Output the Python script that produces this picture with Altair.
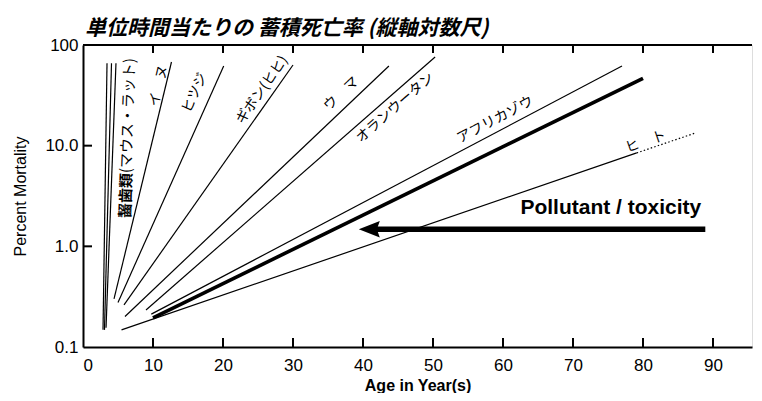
import altair as alt
import pandas as pd

# ---- data ----
series = ["rodent1", "rodent2", "rodent3", "dog", "sheep", "gibbon",
          "horse", "orangutan", "elephant", "pollutant", "human"]
x_start = [2.86, 3.07, 3.29, 4.43, 5.0, 5.86, 6.0, 9.0, 9.76, 10.0, 5.5]
y_start = [0.148, 0.148, 0.155, 0.30, 0.277, 0.262, 0.201, 0.233, 0.212, 0.195, 0.148]
x_end = [3.43, 4.07, 4.71, 12.64, 20.1, 30.0, 43.7, 50.3, 77.0, 80.0, 79.1]
y_end = [66, 66, 66, 67.8, 62, 63.3, 61.8, 76, 61.8, 46.7, 8.47]

human_ext_x = [79.1, 87.4]
human_ext_y = [8.47, 13.3]

label_text = ["イ　ヌ", "ヒツジ", "ギボン(ヒヒ)", "ウ　マ", "オランウータン", "アフリカゾウ", "ヒ　ト"]
label_x = [10.86, 16.0, 25.6, 36.9, 44.6, 58.9, 80.4]
label_y = [39.2, 33.4, 35.7, 32.6, 23.7, 18.0, 10.9]
label_angle = [283.5, 294.5, 305, 316.6, 318.8, 332, 341]

rodent_bold = "齧歯類"
rodent_rest = "(マウス・ラット)"
rodent_bold_xy = (6.14, 3.2)
rodent_rest_xy = (6.43, 19.9)
rodent_angle = 272

arrow_text = "Pollutant / toxicity"
arrow_text_xy = (75.4, 2.40)
arrow_y = 1.48
arrow_head_x = 40.9
arrow_tail_x = 88.9

x_ticks = [0, 10, 20, 30, 40, 50, 60, 70, 80, 90]
y_ticks = [0.1, 1, 10, 100]
y_tick_labels = ["0.1", "1.0", "10.0", "100"]

title_text = "単位時間当たりの 蓄積死亡率 (縦軸対数尺)"
x_title = "Age in Year(s)"
y_title = "Percent Mortality"

# ---- layout ----
W, H = 669, 302
XMAX = 95.57

seg = pd.DataFrame({"series": series, "x1": x_start, "y1": y_start,
                    "x2": x_end, "y2": y_end})
seg_thin = seg[seg.series != "pollutant"]
seg_thick = seg[seg.series == "pollutant"]
ext = pd.DataFrame({"x1": [human_ext_x[0]], "y1": [human_ext_y[0]],
                    "x2": [human_ext_x[1]], "y2": [human_ext_y[1]]})

labels = pd.DataFrame({"t": label_text, "x": label_x, "y": label_y, "a": label_angle})
rod = pd.DataFrame({"t": [rodent_bold, rodent_rest],
                    "x": [rodent_bold_xy[0], rodent_rest_xy[0]],
                    "y": [rodent_bold_xy[1], rodent_rest_xy[1]]})

ylab_expr = "{" + ", ".join(
    f"'{v}': '{s}'" for v, s in zip(["0.1", "1", "10", "100"], y_tick_labels)) + "}[datum.value + '']"

xs = alt.Scale(domain=[0, XMAX], nice=False, zero=False)
ys = alt.Scale(type="log", domain=[0.1, 100], nice=False)

X = alt.X("x1:Q", scale=xs, axis=alt.Axis(
    values=x_ticks, title=x_title, ticks=False, tickSize=0, grid=False,
    labelFontSize=17, labelPadding=10, titleFontSize=16, titlePadding=4,
    labelFont="Liberation Sans", titleFont="Liberation Sans",
    titleFontWeight="bold", labelColor="black", titleColor="black",
    domainColor="black", domainWidth=2))
Y = alt.Y("y1:Q", scale=ys, axis=alt.Axis(
    values=y_ticks, title=y_title, ticks=False, tickSize=0, grid=False,
    labelExpr=ylab_expr, labelFontSize=17, labelPadding=5,
    titleFontSize=16, titlePadding=16,
    labelFont="Liberation Sans", titleFont="Liberation Sans",
    titleFontWeight="normal", labelColor="black", titleColor="black",
    domainColor="black", domainWidth=2))

thin = alt.Chart(seg_thin).mark_rule(color="black", strokeWidth=1.2).encode(
    x=X, y=Y, x2="x2:Q", y2="y2:Q")
thick = alt.Chart(seg_thick).mark_rule(color="black", strokeWidth=3.6).encode(
    x=alt.X("x1:Q", scale=xs), y=alt.Y("y1:Q", scale=ys), x2="x2:Q", y2="y2:Q")
dotted = alt.Chart(ext).mark_rule(color="black", strokeWidth=1.2, strokeDash=[1.5, 2.2]).encode(
    x=alt.X("x1:Q", scale=xs), y=alt.Y("y1:Q", scale=ys), x2="x2:Q", y2="y2:Q")

lab = alt.Chart(labels).mark_text(font="Noto Sans CJK JP", fontSize=14, color="black").encode(
    x=alt.X("x:Q", scale=xs), y=alt.Y("y:Q", scale=ys), text="t:N",
    angle=alt.Angle("a:Q", scale=None))
rod1 = alt.Chart(rod.iloc[[0]]).mark_text(font="Noto Sans CJK JP", fontSize=15,
                                          fontWeight="bold", color="black",
                                          angle=rodent_angle).encode(
    x=alt.X("x:Q", scale=xs), y=alt.Y("y:Q", scale=ys), text="t:N")
rod2 = alt.Chart(rod.iloc[[1]]).mark_text(font="Noto Sans CJK JP", fontSize=15,
                                          color="black", angle=rodent_angle).encode(
    x=alt.X("x:Q", scale=xs), y=alt.Y("y:Q", scale=ys), text="t:N")

arrow_df = pd.DataFrame({"x1": [arrow_head_x], "x2": [arrow_tail_x], "y": [arrow_y]})
shaft = alt.Chart(arrow_df).mark_rule(color="black", strokeWidth=5.5).encode(
    x=alt.X("x1:Q", scale=xs), x2="x2:Q", y=alt.Y("y:Q", scale=ys))
head = alt.Chart(arrow_df).mark_point(
    shape="M-1,0 L1,-0.78 L0.72,0 L1,0.78 Z", size=441, filled=True,
    color="black", opacity=1, strokeWidth=0).encode(
    x=alt.X("x1:Q", scale=xs), y=alt.Y("y:Q", scale=ys))
atext = alt.Chart(pd.DataFrame({"t": [arrow_text], "x": [arrow_text_xy[0]],
                                "y": [arrow_text_xy[1]]})).mark_text(
    font="Liberation Sans", fontSize=21, fontWeight="bold", color="black").encode(
    x=alt.X("x:Q", scale=xs), y=alt.Y("y:Q", scale=ys), text="t:N")

# frame: top line and inward ticks
top_line = alt.Chart(pd.DataFrame({"v": [0]})).mark_rule(color="black", strokeWidth=2).encode(
    x=alt.value(0), x2=alt.value(W), y=alt.value(0))
tick_df = pd.DataFrame({"x": x_ticks[1:]})
bot_ticks = alt.Chart(tick_df).mark_rule(color="black", strokeWidth=2).encode(
    x=alt.X("x:Q", scale=xs), y=alt.value(H), y2=alt.value(H - 9))
top_ticks = alt.Chart(tick_df).mark_rule(color="black", strokeWidth=2).encode(
    x=alt.X("x:Q", scale=xs), y=alt.value(0), y2=alt.value(8))
ytick_df = pd.DataFrame({"y": [1, 10]})
left_ticks = alt.Chart(ytick_df).mark_rule(color="black", strokeWidth=2).encode(
    y=alt.Y("y:Q", scale=ys), x=alt.value(0), x2=alt.value(9))

chart = alt.layer(thin, thick, dotted, lab, rod1, rod2, shaft, head, atext,
                  top_line, bot_ticks, top_ticks, left_ticks).properties(
    width=W, height=H,
    title=alt.TitleParams(title_text, anchor="start", frame="group", dx=2, offset=-3,
                          font="Noto Sans CJK JP", fontSize=21, fontStyle="italic",
                          fontWeight="bold", color="black"),
    autosize=alt.AutoSizeParams(type="none"),
    padding={"left": 75, "top": 37, "right": 2, "bottom": 46},
).configure_view(stroke=None).configure(background="white")

chart.save("out.html", embed_options={"renderer": "svg", "actions": False})
